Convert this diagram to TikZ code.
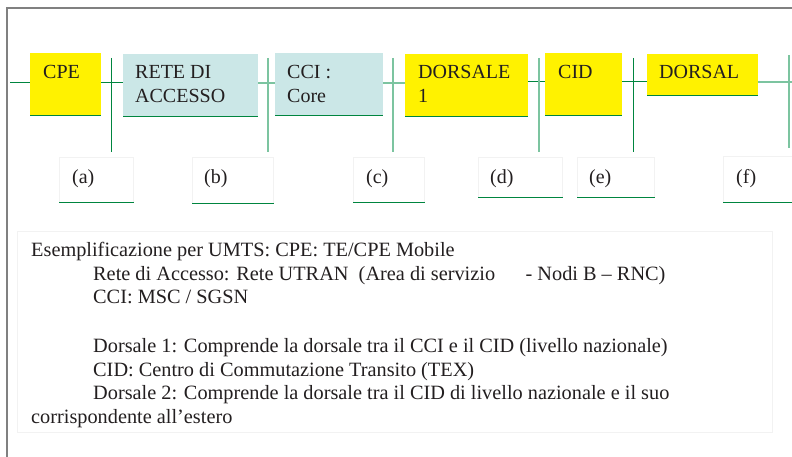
\documentclass[tikz,border=0pt]{standalone}
\usepackage{fontspec}
\setmainfont{Liberation Serif}
\definecolor{ink}{HTML}{231F20}
\definecolor{yel}{HTML}{FFF200}
\definecolor{aqua}{HTML}{CBE7E7}
\definecolor{dkgreen}{HTML}{00853F}
\definecolor{ltgreen}{HTML}{7CC4A0}
\definecolor{frame}{HTML}{808080}
\definecolor{faint}{HTML}{F2F2F2}
\begin{document}
\begin{tikzpicture}[x=1pt,y=-1pt,
  every node/.style={font=\fontsize{20}{24}\selectfont, text=ink},
  segment/.style={anchor=north west, inner sep=0pt, draw=none},
  segtext/.style={anchor=base west, inner sep=0pt, align=left},
  refbox/.style={anchor=north west, inner sep=0pt, draw=faint, fill=white, line width=0.6pt},
  reftext/.style={anchor=base west, inner sep=0pt},
  darkline/.style={draw=dkgreen, line width=1pt},
  lightline/.style={draw=ltgreen, line width=1.5pt},
]
\useasboundingbox (0,0) rectangle (792,457);

% outer frame (open to the right and bottom)
\draw[frame, line width=1.4pt] (7,457) -- (7,8) -- (792,8);

% chain of network segments
\node[segment, fill=yel,  minimum width=71pt,  minimum height=62pt] (cpe)  at (30,53)  {};
\node[segment, fill=aqua, minimum width=135pt, minimum height=62pt] (rete) at (123,54) {};
\node[segment, fill=aqua, minimum width=108pt, minimum height=62pt] (cci)  at (275,53) {};
\node[segment, fill=yel,  minimum width=123pt, minimum height=62pt] (dor1) at (405,54) {};
\node[segment, fill=yel,  minimum width=77pt,  minimum height=62pt] (cid)  at (545,53) {};
\node[segment, fill=yel,  minimum width=111pt, minimum height=41pt] (dor2) at (647,54) {};

% green base line under each segment
\foreach \b in {cpe,rete,cci,dor1,cid,dor2}
  \draw[darkline] (\b.south west) -- (\b.south east);

% segment captions (base anchor sits on the last line)
\node[segtext] (cpe-t)  at (43,79)   {CPE};
\node[segtext] (rete-t) at (135,103) {RETE DI\\ACCESSO};
\node[segtext] (cci-t)  at (287,103) {CCI :\\Core};
\node[segtext] (dor1-t) at (418,103) {DORSALE\\1};
\node[segtext] (cid-t)  at (558,79)  {CID};
\node[segtext] (dor2-t) at (659,79)  {DORSAL};

% links between consecutive segments
\coordinate (lnk) at (0,83);
\coordinate (in)  at (10,83);
\coordinate (out) at (792,82);
\draw[darkline]  (in) -- (cpe.west |- lnk);
\draw[darkline]  (cpe.east |- lnk) -- (rete.west |- lnk);
\draw[lightline] (rete.east |- lnk) -- (cci.west |- lnk);
\draw[lightline] (cci.east |- lnk) -- (dor1.west |- lnk);
\draw[darkline]  ([yshift=1pt]dor1.east |- lnk) -- ([yshift=1pt]cid.west |- lnk);
\draw[darkline]  ([yshift=1pt]cid.east |- lnk) -- ([yshift=1pt]dor2.west |- lnk);
\draw[lightline] (dor2.east |- out) -- (out);

% reference points (a)-(f)
\coordinate (pa1) at (111.5,58);  \coordinate (pa2) at (111.5,152);
\coordinate (pb1) at (268,58);    \coordinate (pb2) at (268,152);
\coordinate (pc1) at (393,58);    \coordinate (pc2) at (393,152);
\coordinate (pd1) at (539,58);    \coordinate (pd2) at (539,152);
\coordinate (pe1) at (633.5,58);  \coordinate (pe2) at (633.5,152);
\coordinate (pf1) at (789,55);    \coordinate (pf2) at (789,148);
\draw[darkline]  (pa1) -- (pa2);
\draw[lightline] (pb1) -- (pb2);
\draw[lightline] (pc1) -- (pc2);
\draw[lightline] (pd1) -- (pd2);
\draw[darkline]  (pe1) -- (pe2);
\draw[lightline] (pf1) -- (pf2);

% reference labels
\node[refbox, minimum width=74pt, minimum height=45pt] (ra) at (59,157)  {};
\node[refbox, minimum width=81pt, minimum height=46pt] (rb) at (192,157) {};
\node[refbox, minimum width=71pt, minimum height=45pt] (rc) at (353,157) {};
\node[refbox, minimum width=84pt, minimum height=40pt] (rd) at (478,157) {};
\node[refbox, minimum width=77pt, minimum height=40pt] (re) at (577,157) {};
\node[refbox, minimum width=72pt, minimum height=46pt] (rf) at (723,156) {};
\foreach \r in {ra,rb,rc,rd,re,rf}
  \draw[darkline] (\r.south west) -- (\r.south east);
\node[reftext] (ta) at (72,184)  {(a)};
\node[reftext] (tb) at (204,184) {(b)};
\node[reftext] (tc) at (366,184) {(c)};
\node[reftext] (td) at (490,184) {(d)};
\node[reftext] (te) at (589,184) {(e)};
\node[reftext] (tf) at (736,184) {(f)};

% UMTS example
\node[refbox, minimum width=755pt, minimum height=201pt] (note) at (17,231) {};
\node[anchor=base west, inner sep=0pt, align=left,
      font=\fontsize{20.3}{23.4}\selectfont] (note-t) at (31,423)
  {Esemplificazione per UMTS: CPE: TE/CPE Mobile\\
   \hspace*{62pt}Rete di Accesso: Rete UTRAN\ \ (Area di servizio\ \ \ \ \ \ - Nodi B -- RNC)\\
   \hspace*{62pt}CCI: MSC / SGSN\\[26pt]
   \hspace*{62pt}Dorsale 1: Comprende la dorsale tra il CCI e il CID (livello nazionale)\\
   \hspace*{62pt}CID: Centro di Commutazione Transito (TEX)\\
   \hspace*{62pt}Dorsale 2: Comprende la dorsale tra il CID di livello nazionale e il suo\\
   corrispondente all’estero};
\end{tikzpicture}
\end{document}
